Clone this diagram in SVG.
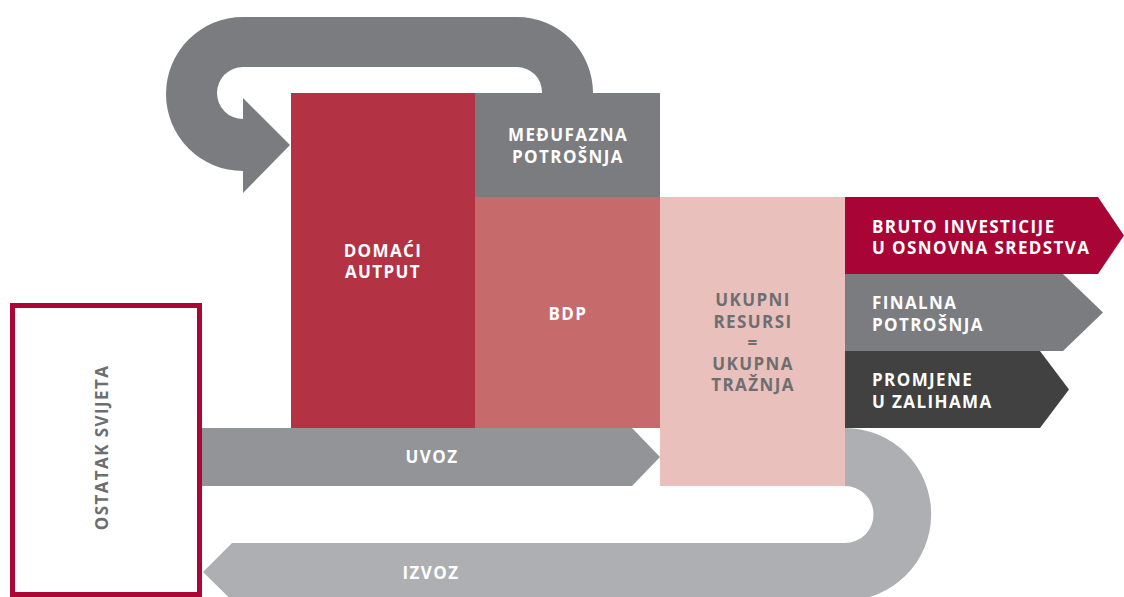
<svg xmlns="http://www.w3.org/2000/svg" width="1124" height="597" viewBox="0 0 1124 597">
<style>
.t{font-family:"Open Sans","Liberation Sans",sans-serif;font-weight:700;font-size:17px;letter-spacing:1.4px;fill:#ffffff}
.c{text-anchor:middle}
.g{fill:#6d6e71}
</style>
<rect width="1124" height="597" fill="#ffffff"/>
<g id="connectors">
<path id="loop" d="M593 100 L593 93 A76 76 0 0 0 517 17 L243 17 A77 77 0 0 0 243 171 L243 193 L290 145 L243 98 L243 119 A26 26 0 0 1 243 67 L517 67 A25 25 0 0 1 542 92 L542 100 Z" fill="#7b7c80"/>
<g id="uvoz"><path d="M202 428 L632 428 L660 457 L632 486 L202 486 Z" fill="#939498"/><text class="t c" x="432" y="463">UVOZ</text></g>
<g id="izvoz"><path d="M845 428 A86 86 0 0 1 845 600.5 L232 600.5 L203 572 L232 543 L845 543 A28.5 28.5 0 0 0 845 486 Z" fill="#aeafb3"/><text class="t c" x="431" y="579">IZVOZ</text></g>
</g>
<g id="domaci"><rect x="291" y="93" width="184" height="335" fill="#b33344"/><text class="t c" x="383" y="257">DOMAĆI</text><text class="t c" x="383" y="278">AUTPUT</text></g>
<g id="medjufazna"><rect x="475" y="93" width="185" height="104" fill="#7b7c80"/><text class="t c" x="568" y="141">MEĐUFAZNA</text><text class="t c" x="568" y="163">POTROŠNJA</text></g>
<g id="bdp"><rect x="475" y="197" width="185" height="231" fill="#c76a6b"/><text class="t c" x="568" y="320">BDP</text></g>
<g id="ukupni"><rect x="660" y="197" width="185" height="289" fill="#e9c0bb"/>
<text class="t c g" x="753" y="306">UKUPNI</text><text class="t c g" x="753" y="327.5">RESURSI</text><text class="t c g" x="753" y="349">=</text><text class="t c g" x="753" y="370">UKUPNA</text><text class="t c g" x="753" y="391">TRAŽNJA</text></g>
<g id="bruto"><path d="M845 197 L1098 197 L1124 235.5 L1098 274 L845 274 Z" fill="#a90436"/><text class="t" x="872" y="232.5">BRUTO INVESTICIJE</text><text class="t" x="872" y="253.5">U OSNOVNA SREDSTVA</text></g>
<g id="finalna"><path d="M845 274 L1063 274 L1103 312.5 L1063 351 L845 351 Z" fill="#7b7c80"/><text class="t" x="872" y="309">FINALNA</text><text class="t" x="872" y="331">POTROŠNJA</text></g>
<g id="promjene"><path d="M845 351 L1040 351 L1069 389.5 L1040 428 L845 428 Z" fill="#414142"/><text class="t" x="872" y="386">PROMJENE</text><text class="t" x="872" y="408">U ZALIHAMA</text></g>
<g id="ostatak"><rect x="12.5" y="305.5" width="187" height="289" fill="none" stroke="#ad0535" stroke-width="5"/><text class="t c g" transform="translate(108 447.5) rotate(-90)">OSTATAK SVIJETA</text></g>
</svg>
